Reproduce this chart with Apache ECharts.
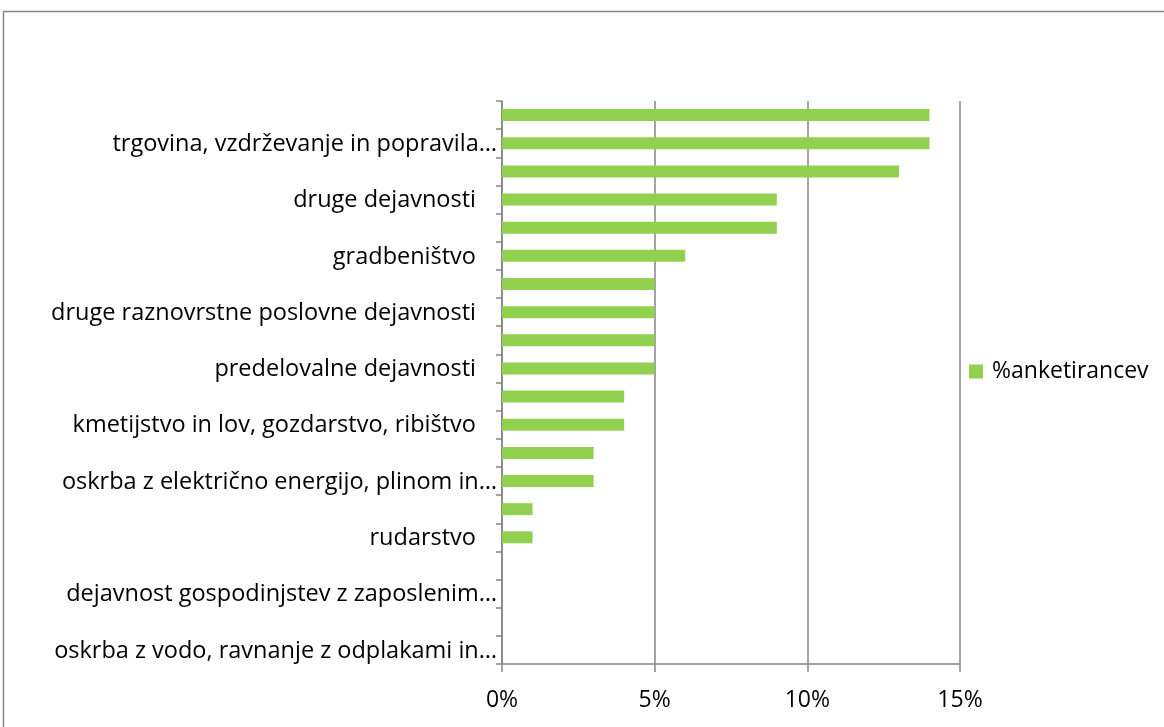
<!DOCTYPE html>
<html>
<head>
<meta charset="utf-8">
<style>
  html, body { margin: 0; padding: 0; background: #ffffff; }
  #chart { width: 1164px; height: 727px; }
</style>
<script src="https://cdn.jsdelivr.net/npm/echarts@6/dist/echarts.min.js"></script>
</head>
<body>
<div id="chart"></div>
<script>
// Industry sectors, listed bottom to top (first entry sits next to the x axis)
const categories = [
  'oskrba z vodo, ravnanje z odplakami in…',
  'kulturne, razvedrilne in rekreacijske dejavnosti',
  'dejavnost gospodinjstev z zaposlenim…',
  'poslovanje z nepremičninami',
  'rudarstvo',
  'finančne in zavarovalniške dejavnosti',
  'oskrba z električno energijo, plinom in…',
  'gostinstvo',
  'kmetijstvo in lov, gozdarstvo, ribištvo',
  'informacijske in komunikacijske dejavnosti',
  'predelovalne dejavnosti',
  'promet in skladiščenje',
  'druge raznovrstne poslovne dejavnosti',
  'strokovne, znanstvene in tehnične dejavnosti',
  'gradbeništvo',
  'zdravstvo in socialno varstvo',
  'druge dejavnosti',
  'javna uprava in obramba, obvezna socialna varnost',
  'trgovina, vzdrževanje in popravila…',
  'izobraževanje'
];

// Share of respondents (%) per sector, same order as categories
const seriesName = '%anketirancev';
const shares = [0, 0, 0, 0, 1, 1, 3, 3, 4, 4, 5, 5, 5, 5, 6, 9, 9, 13, 14, 14];

// Value axis ticks (%)
const xTicks = [0, 5, 10, 15];

const FONT = '"Open Sans", "Noto Sans", sans-serif';
const FS = 23.5;
const GRAY = '#868686';
const GREEN = '#92D050';

const chart = echarts.init(document.getElementById('chart'), null, { renderer: 'canvas' });

chart.setOption({
  animation: false,
  backgroundColor: '#ffffff',
  textStyle: { fontFamily: FONT },
  graphic: [{
    type: 'rect',
    shape: { x: 3.5, y: 11.5, width: 1300, height: 900 },
    style: { fill: 'none', stroke: GRAY, lineWidth: 1.5 },
    silent: true
  }],
  grid: { left: 502, right: 204, top: 101, bottom: 63, containLabel: false },
  legend: {
    left: 969,
    top: 360,
    padding: 0,
    orient: 'vertical',
    itemWidth: 14,
    itemHeight: 14,
    icon: 'rect',
    textStyle: { fontFamily: FONT, fontSize: 23, color: '#000000', padding: [0, 0, 0, 4] },
    data: [seriesName]
  },
  xAxis: {
    type: 'value',
    min: xTicks[0],
    max: xTicks[xTicks.length - 1],
    interval: xTicks[1] - xTicks[0],
    axisLine: { show: true, lineStyle: { color: GRAY, width: 1.5 } },
    axisTick: { show: true, length: 8, lineStyle: { color: GRAY, width: 1.5 } },
    splitLine: { show: true, lineStyle: { color: GRAY, width: 1.5 } },
    axisLabel: {
      formatter: '{value}%',
      fontFamily: FONT,
      fontSize: 23,
      color: '#000000',
      margin: 25
    }
  },
  yAxis: {
    type: 'category',
    data: categories,
    axisLine: { show: true, lineStyle: { color: GRAY, width: 1.5 } },
    axisTick: { show: true, interval: 0, length: 6, lineStyle: { color: GRAY, width: 1.5 } },
    axisLabel: {
      interval: 1,
      margin: 5,
      fontFamily: FONT,
      fontSize: FS,
      color: '#000000',
      formatter: function (v) {
        return v.endsWith('…') ? '{t|' + v + '}' : '{p|' + v + '}';
      },
      rich: {
        t: { fontFamily: FONT, fontSize: FS, color: '#000000', padding: [2, 0, 0, 0] },
        p: { fontFamily: FONT, fontSize: FS, color: '#000000', padding: [2, 21, 0, 0] }
      }
    }
  },
  series: [{
    name: seriesName,
    type: 'bar',
    data: shares,
    barWidth: 12,
    itemStyle: { color: GREEN }
  }]
});
</script>
</body>
</html>
